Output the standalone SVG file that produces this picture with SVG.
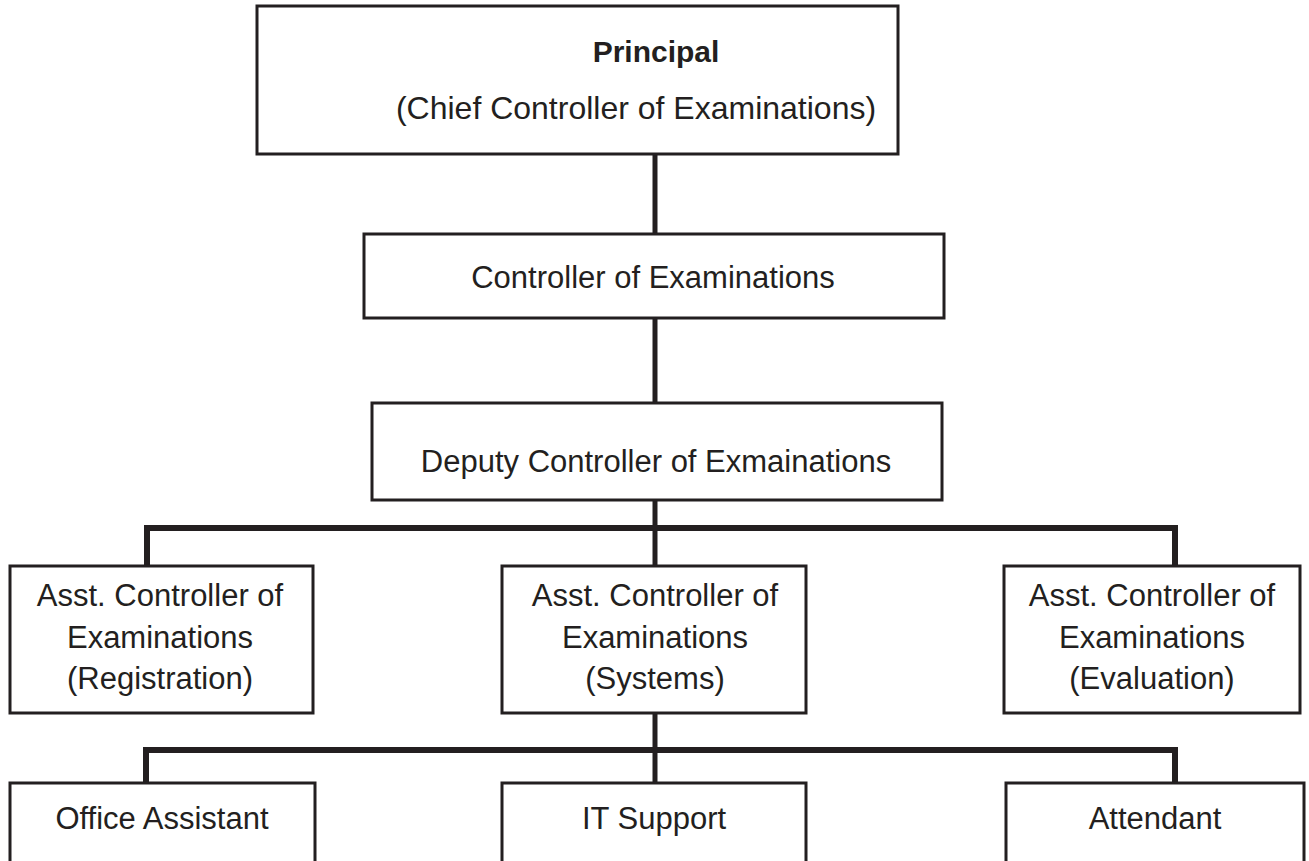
<svg xmlns="http://www.w3.org/2000/svg" width="1309" height="861" viewBox="0 0 1309 861">
  <style>
    .box { fill: #ffffff; stroke: #231f20; stroke-width: 3; }
    .conn { fill: none; stroke: #231f20; stroke-width: 5; stroke-linejoin: miter; stroke-linecap: square; }
    .bus { stroke-width: 6; }
    text { font-family: "Liberation Sans", Arial, sans-serif; font-size: 31px; fill: #231f20; text-anchor: middle; }
    .bold { font-weight: bold; font-size: 30px; }
    .sub { font-size: 32px; }
  </style>
  <rect width="1309" height="861" fill="#ffffff"/>

  <!-- connectors -->
  <g id="connectors">
    <line class="conn" x1="655" y1="155" x2="655" y2="233"/>
    <line class="conn" x1="655" y1="319" x2="655" y2="402"/>
    <line class="conn" x1="655" y1="501" x2="655" y2="565"/>
    <polyline class="conn bus" points="147,565 147,528 1175,528 1175,565"/>
    <line class="conn" x1="655" y1="714" x2="655" y2="782"/>
    <polyline class="conn bus" points="146,782 146,750 1175,750 1175,782"/>
  </g>

  <g id="principal">
    <rect class="box" x="257" y="6" width="641" height="148"/>
    <text class="bold" x="656" y="62">Principal</text>
    <text class="sub" x="636" y="119">(Chief Controller of Examinations)</text>
  </g>

  <g id="controller">
    <rect class="box" x="364" y="234" width="580" height="84"/>
    <text x="653" y="288">Controller of Examinations</text>
  </g>

  <g id="deputy">
    <rect class="box" x="372" y="403" width="570" height="97"/>
    <text x="656" y="472">Deputy Controller of Exmainations</text>
  </g>

  <g id="asst-registration">
    <rect class="box" x="10" y="566" width="303" height="147"/>
    <text x="160" y="606">Asst. Controller of</text>
    <text x="160" y="648">Examinations</text>
    <text x="160" y="689">(Registration)</text>
  </g>

  <g id="asst-systems">
    <rect class="box" x="502" y="566" width="304" height="147"/>
    <text x="655" y="606">Asst. Controller of</text>
    <text x="655" y="648">Examinations</text>
    <text x="655" y="689">(Systems)</text>
  </g>

  <g id="asst-evaluation">
    <rect class="box" x="1004" y="566" width="296" height="147"/>
    <text x="1152" y="606">Asst. Controller of</text>
    <text x="1152" y="648">Examinations</text>
    <text x="1152" y="689">(Evaluation)</text>
  </g>

  <g id="office-assistant">
    <rect class="box" x="10" y="783" width="305" height="90"/>
    <text x="162" y="829">Office Assistant</text>
  </g>

  <g id="it-support">
    <rect class="box" x="502" y="783" width="304" height="90"/>
    <text x="654" y="829">IT Support</text>
  </g>

  <g id="attendant">
    <rect class="box" x="1006" y="783" width="298" height="90"/>
    <text x="1155" y="829">Attendant</text>
  </g>
</svg>
